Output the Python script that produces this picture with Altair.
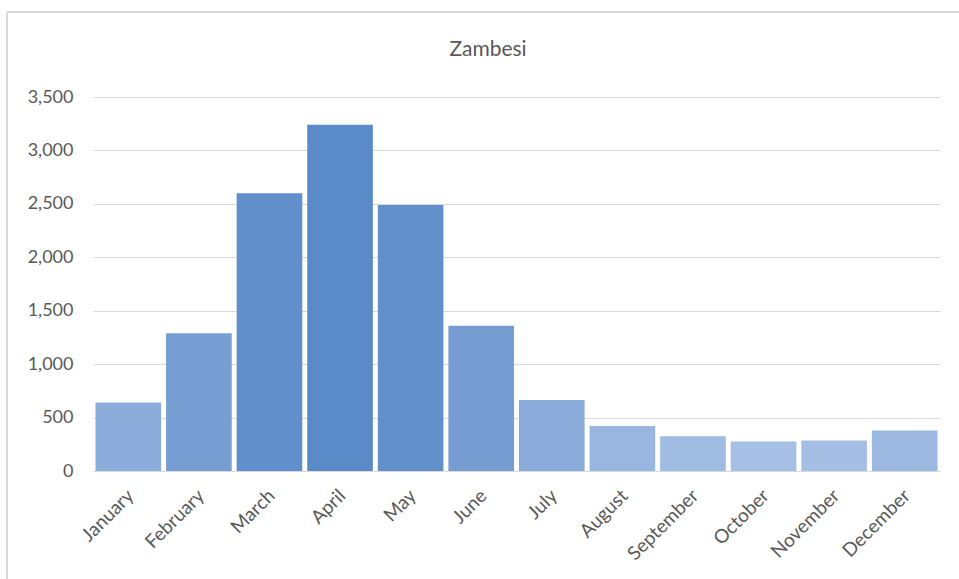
import altair as alt
import pandas as pd

months = ["January", "February", "March", "April", "May", "June", "July",
          "August", "September", "October", "November", "December"]
values = [640, 1290, 2600, 3240, 2490, 1360, 665, 420, 325, 275, 285, 380]
title_text = "Zambesi"

df = pd.DataFrame({"month": months, "value": values})

FONT = "Lato"
TXT = "#595959"

bars = alt.Chart(df).mark_bar().encode(
    x=alt.X("month:N", sort=months,
            scale=alt.Scale(paddingInner=0.07, paddingOuter=0.035),
            axis=alt.Axis(title=None, labelAngle=-45, labelAlign="right",
                          labelBaseline="top", labelPadding=15, labelOffset=-4,
                          ticks=False, domain=True, domainColor="#d9d9d9",
                          labelFontSize=19, labelColor=TXT, labelFont=FONT)),
    y=alt.Y("value:Q", scale=alt.Scale(domain=[0, 3500], nice=False),
            axis=alt.Axis(title=None, values=[0, 500, 1000, 1500, 2000, 2500, 3000, 3500],
                          format=",d", ticks=False, domain=False, gridColor="#d9d9d9",
                          labelPadding=20, labelFontSize=18, labelColor=TXT, labelFont=FONT)),
    color=alt.Color("value:Q", legend=None,
                    scale=alt.Scale(type="log", domain=[265, 3240],
                                    range=["#a7c0e5", "#5a8ac8"], interpolate="rgb"))
)

title = alt.Chart(pd.DataFrame({"t": [title_text]})).mark_text(
    font=FONT, fontSize=21, color=TXT, align="center", baseline="middle"
).encode(text="t:N", x=alt.value(395), y=alt.value(-47))

frame_top = alt.Chart(df).mark_rule(color="#d9d9d9", strokeWidth=2).encode(
    x=alt.value(-86), x2=alt.value(880), y=alt.value(-85))
frame_left = alt.Chart(df).mark_rule(color="#d9d9d9", strokeWidth=2).encode(
    x=alt.value(-86), y=alt.value(-85), y2=alt.value(490))

chart = alt.layer(bars, title, frame_top, frame_left).properties(
    width=847, height=374,
    background="white",
    autosize=alt.AutoSizeParams(type="none"),
    padding={"left": 93, "top": 97, "right": 19, "bottom": 108},
).configure_view(stroke=None)

chart.save("out.html", embed_options={"renderer": "svg", "actions": False})
